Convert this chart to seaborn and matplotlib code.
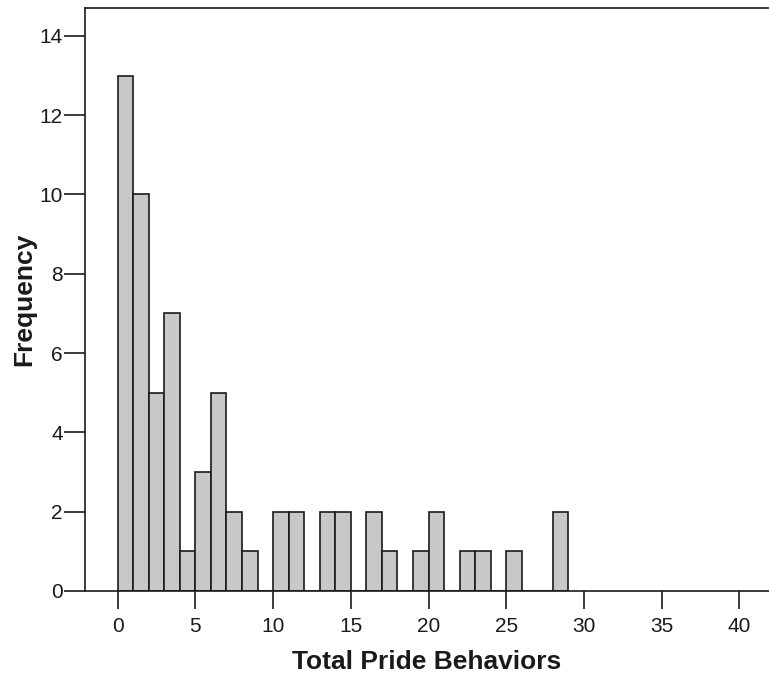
import numpy as np
import pandas as pd
import matplotlib
matplotlib.use("Agg")
import matplotlib.pyplot as plt
import seaborn as sns

# Data: bin starts (width 1) and frequencies
bin_starts = [0, 1, 2, 3, 4, 5, 6, 7, 8, 9, 10, 11, 12, 13, 14, 15, 16, 17, 18, 19,
              20, 21, 22, 23, 24, 25, 26, 27, 28]
counts = [13, 10, 5, 7, 1, 3, 5, 2, 1, 0, 2, 2, 0, 2, 2, 0, 2, 1, 0, 1,
          2, 0, 1, 1, 0, 1, 0, 0, 2]
x_ticks = [0, 5, 10, 15, 20, 25, 30, 35, 40]
y_ticks = [0, 2, 4, 6, 8, 10, 12, 14]

# one observation per counted case, placed at its bin centre
values = np.repeat(np.array(bin_starts) + 0.5, counts)
df = pd.DataFrame({"value": values})

sns.set_theme(style="white")
plt.rcParams['font.family'] = ['Liberation Sans', 'DejaVu Sans']

fig = plt.figure(figsize=(7.69, 6.80), dpi=100)
ax = fig.add_axes([0.1105, 0.131, 0.8895, 0.857])

sns.histplot(data=df, x="value", bins=np.arange(0, 30, 1),
             color="#c8c8c8", alpha=1.0, edgecolor="#1a1a1a", linewidth=1.2, ax=ax)

ax.set_xlim(-2.1, 41.9)
ax.set_ylim(0, 14.7)
ax.set_xticks(x_ticks)
ax.set_yticks(y_ticks)
ax.tick_params(axis="x", which="major", direction="out", length=13, width=1.2,
               color="#1a1a1a", labelsize=15, labelcolor="#1a1a1a", pad=6, bottom=True)
ax.tick_params(axis="y", which="major", direction="out", length=15, width=1.2,
               color="#1a1a1a", labelsize=15, labelcolor="#1a1a1a", pad=1, left=True)
for side in ["left", "top", "bottom"]:
    ax.spines[side].set_visible(True)
    ax.spines[side].set_color("#1a1a1a")
    ax.spines[side].set_linewidth(1.2)
ax.spines["right"].set_visible(False)

ax.set_xlabel("Total Pride Behaviors", fontsize=19, fontweight="bold", color="#1a1a1a", labelpad=10)
ax.set_ylabel("Frequency", fontsize=19, fontweight="bold", color="#1a1a1a", labelpad=2)

fig.savefig("out.png", dpi=100)
